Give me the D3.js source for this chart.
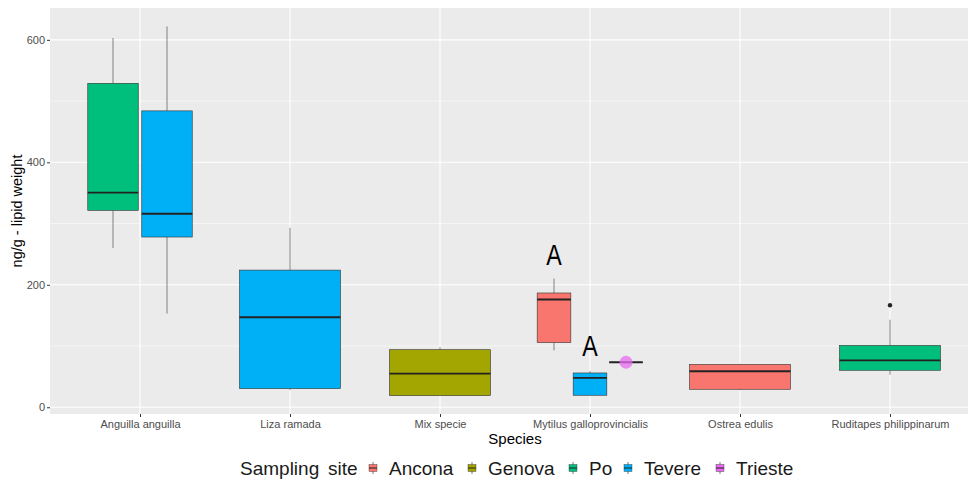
<!DOCTYPE html>
<html>
<head>
<meta charset="utf-8">
<script src="https://cdn.jsdelivr.net/npm/d3@7"></script>
<style>
  body { margin: 0; background: #fff; }
  svg text { font-family: "Liberation Sans", Arial, Helvetica, sans-serif; }
</style>
</head>
<body>
<svg id="chart" width="968" height="482"></svg>
<script>
// ---- data ----
const species = ["Anguilla anguilla", "Liza ramada", "Mix specie", "Mytilus galloprovincialis", "Ostrea edulis", "Ruditapes philippinarum"];
const sites = ["Ancona", "Genova", "Po", "Tevere", "Trieste"];
const siteColors = ["#F8766D", "#A3A500", "#00BF7D", "#00B0F6", "#E76BF3"];
const yTicks = [0, 200, 400, 600];
const yMinorTicks = [100, 300, 500];

// one entry per box
const boxSpecies = ["Anguilla anguilla", "Anguilla anguilla", "Liza ramada", "Mix specie", "Mytilus galloprovincialis", "Mytilus galloprovincialis", "Mytilus galloprovincialis", "Ostrea edulis", "Ruditapes philippinarum"];
const boxSite    = ["Po", "Tevere", "Tevere", "Genova", "Ancona", "Tevere", "Trieste", "Ancona", "Po"];
const whiskerLow = [260, 153, 28, 19, 93, 19.6, 73.5, 28, 53];
const q1         = [321.6, 278, 30.5, 19, 105.6, 19.6, 73.5, 29.4, 60.4];
const median     = [350.5, 316, 147, 55, 176, 48, 73.5, 58.8, 76.7];
const q3         = [529, 484, 224, 94, 186.6, 56, 73.5, 70, 101];
const whiskerHigh= [603, 622, 293, 98, 210, 59, 73.5, 71, 143];

// outliers
const outSpecies = ["Ruditapes philippinarum"];
const outSite = ["Po"];
const outValue = [166.5];

// highlighted single observations (points)
const ptSpecies = ["Mytilus galloprovincialis"];
const ptSite = ["Trieste"];
const ptValue = [73.5];

// letter annotations
const letterSpecies = ["Mytilus galloprovincialis", "Mytilus galloprovincialis"];
const letterSite = ["Ancona", "Tevere"];
const letterText = ["A", "A"];
const letterValue = [232, 83];

// ---- layout ----
const svg = d3.select("#chart");
const panel = { left: 50, right: 980, top: 8, bottom: 414 };

const x = d3.scalePoint().domain(species).range([panel.left, panel.right]).padding(0.6);
const step = x.step();
const y = d3.scaleLinear().domain([-11, 652]).range([panel.bottom, panel.top]);
const color = d3.scaleOrdinal().domain(sites).range(siteColors);

// panel background
svg.append("rect")
  .attr("x", panel.left).attr("y", panel.top)
  .attr("width", panel.right - panel.left).attr("height", panel.bottom - panel.top)
  .attr("fill", "#EBEBEB");

// gridlines
const grid = svg.append("g");
grid.selectAll("line.minor").data(yMinorTicks).join("line")
  .attr("x1", panel.left).attr("x2", panel.right)
  .attr("y1", d => y(d)).attr("y2", d => y(d))
  .attr("stroke", "#fff").attr("stroke-width", 0.55);
grid.selectAll("line.majory").data(yTicks).join("line")
  .attr("x1", panel.left).attr("x2", panel.right)
  .attr("y1", d => y(d)).attr("y2", d => y(d))
  .attr("stroke", "#fff").attr("stroke-width", 1.1);
grid.selectAll("line.majorx").data(species).join("line")
  .attr("x1", d => x(d)).attr("x2", d => x(d))
  .attr("y1", panel.top).attr("y2", panel.bottom)
  .attr("stroke", "#fff").attr("stroke-width", 1.1);

// axes
const yAxis = d3.axisLeft(y).tickValues(yTicks).tickSize(3).tickPadding(2);
const gy = svg.append("g").attr("transform", `translate(${panel.left},0)`).call(yAxis);
gy.select(".domain").remove();
gy.selectAll(".tick line").attr("stroke", "#333");
gy.selectAll(".tick text").attr("fill", "#4D4D4D").style("font-size", "11px");

const xAxis = d3.axisBottom(x).tickSize(3).tickPadding(3);
const gx = svg.append("g").attr("transform", `translate(0,${panel.bottom})`).call(xAxis);
gx.select(".domain").remove();
gx.selectAll(".tick line").attr("stroke", "#333");
gx.selectAll(".tick text").attr("fill", "#4D4D4D").style("font-size", "11px");

// dodge positions
const totalW = 0.72 * step;
const pad = 0.065;
const groupsBySpecies = {};
boxSpecies.forEach((s, i) => { (groupsBySpecies[s] = groupsBySpecies[s] || []).push(boxSite[i]); });
function dodge(sp, site) {
  const g = groupsBySpecies[sp];
  const sub = d3.scaleBand().domain(g).range([-totalW / 2, totalW / 2]);
  const slot = sub.bandwidth();
  return { cx: x(sp) + sub(site) + slot / 2, w: slot * (1 - pad) };
}

const boxes = boxSpecies.map((s, i) => ({
  species: s, site: boxSite[i], lo: whiskerLow[i], q1: q1[i], med: median[i], q3: q3[i], hi: whiskerHigh[i]
}));

const bg = svg.append("g");
boxes.forEach(b => {
  const p = dodge(b.species, b.site);
  const g = bg.append("g");
  g.append("line").attr("x1", p.cx).attr("x2", p.cx).attr("y1", y(b.q3)).attr("y2", y(b.hi))
    .attr("stroke", "#666").attr("stroke-width", 0.8);
  g.append("line").attr("x1", p.cx).attr("x2", p.cx).attr("y1", y(b.q1)).attr("y2", y(b.lo))
    .attr("stroke", "#666").attr("stroke-width", 0.8);
  g.append("rect").attr("x", p.cx - p.w / 2).attr("width", p.w)
    .attr("y", y(b.q3)).attr("height", Math.max(0, y(b.q1) - y(b.q3)))
    .attr("fill", color(b.site)).attr("stroke", "#333").attr("stroke-width", 0.6);
  g.append("line").attr("x1", p.cx - p.w / 2).attr("x2", p.cx + p.w / 2)
    .attr("y1", y(b.med)).attr("y2", y(b.med))
    .attr("stroke", "#222").attr("stroke-width", 1.8);
});

// single points
ptSpecies.forEach((s, i) => {
  const p = dodge(s, ptSite[i]);
  bg.append("circle").attr("cx", p.cx).attr("cy", y(ptValue[i])).attr("r", 6.5)
    .attr("fill", color(ptSite[i])).attr("fill-opacity", 0.75);
});

// outliers
outSpecies.forEach((s, i) => {
  const p = dodge(s, outSite[i]);
  bg.append("circle").attr("cx", p.cx).attr("cy", y(outValue[i])).attr("r", 2.2).attr("fill", "#222");
});

// letters
letterSpecies.forEach((s, i) => {
  const p = dodge(s, letterSite[i]);
  bg.append("text").attr("x", p.cx).attr("y", y(letterValue[i]))
    .attr("text-anchor", "middle")
    .attr("transform", `translate(${p.cx},0) scale(0.8,1) translate(${-p.cx},0)`)
    .style("font-size", "29px").attr("fill", "#000").text(letterText[i]);
});

// axis titles
svg.append("text").attr("x", (panel.left + panel.right) / 2).attr("y", 444)
  .attr("text-anchor", "middle").style("font-size", "15px").attr("fill", "#000").text("Species");
svg.append("text").attr("transform", `translate(22,${(panel.top + panel.bottom) / 2}) rotate(-90)`)
  .attr("text-anchor", "middle").style("font-size", "14.5px").attr("fill", "#000").text("ng/g - lipid weight");

// legend
const lg = svg.append("g");
const legY = 475;
const legTitle = lg.append("text").attr("x", 240).attr("y", legY).style("font-size", "19px").attr("fill", "#1a1a1a");
legTitle.append("tspan").text("Sampling");
legTitle.append("tspan").attr("x", 328).text("site");
const keyX = [373, 472, 573, 628, 720];
sites.forEach((s, i) => {
  const kx = keyX[i], ky = legY - 7;
  const g = lg.append("g");
  g.append("line").attr("x1", kx).attr("x2", kx).attr("y1", ky - 6).attr("y2", ky + 6)
    .attr("stroke", "#555").attr("stroke-width", 0.8);
  g.append("rect").attr("x", kx - 4).attr("y", ky - 3.5).attr("width", 8).attr("height", 7)
    .attr("fill", color(s)).attr("stroke", "#333").attr("stroke-width", 0.4);
  g.append("line").attr("x1", kx - 4).attr("x2", kx + 4).attr("y1", ky).attr("y2", ky)
    .attr("stroke", "#222").attr("stroke-width", 1);
  g.append("text").attr("x", kx + 16).attr("y", legY).style("font-size", "19px").attr("fill", "#1a1a1a").text(s);
});
</script>
</body>
</html>
